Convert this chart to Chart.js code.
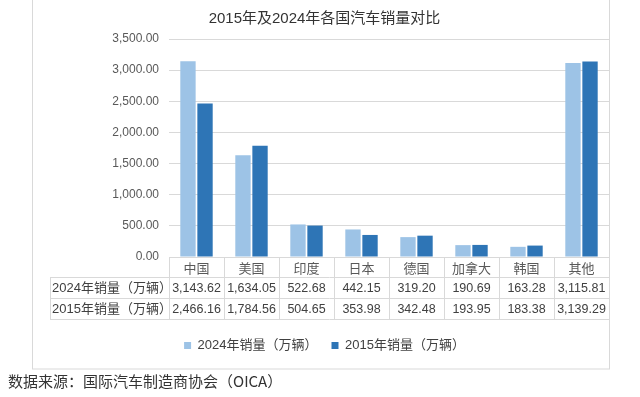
<!DOCTYPE html>
<html>
<head>
<meta charset="utf-8">
<script src="https://cdn.jsdelivr.net/npm/chart.js@4/dist/chart.umd.min.js"></script>
<style>
  html, body { margin: 0; padding: 0; background: #fff; }
  canvas { display: block; }
</style>
</head>
<body>
<canvas id="chart" width="640" height="397"></canvas>
<script>
// 数据（单位：万辆）
const categories = ["中国", "美国", "印度", "日本", "德国", "加拿大", "韩国", "其他"]
const sales2024 = [3143.62, 1634.05, 522.68, 442.15, 319.20, 190.69, 163.28, 3115.81]
const sales2015 = [2466.16, 1784.56, 504.65, 353.98, 342.48, 193.95, 183.38, 3139.29]
const seriesNames = ["2024年销量（万辆）", "2015年销量（万辆）"]
const yMin = 0, yMax = 3500, yStep = 500

const NUM_FONT = '"Liberation Sans", "Noto Sans CJK SC", sans-serif'
const CJK_FONT = '"Noto Sans CJK SC", sans-serif'
const GRID = "#d9d9d9"
const fmt = (v) => v.toLocaleString("en-US", { minimumFractionDigits: 2, maximumFractionDigits: 2 })

// 画外框、数据表和数据来源
const tablePlugin = {
  id: "dataTable",
  beforeDraw(chart) {
    const ctx = chart.ctx
    ctx.save()
    ctx.strokeStyle = GRID
    ctx.lineWidth = 1
    ctx.strokeRect(32.5, -1, 577, 370)
    ctx.restore()
  },
  afterDraw(chart) {
    const ctx = chart.ctx
    const x = chart.scales.x
    const top = chart.chartArea.bottom
    const rows = [top, top + 20, top + 41, top + 62]
    const labelLeft = 50
    const n = categories.length
    const edges = [x.left]
    for (let i = 1; i < n; i++) edges.push((x.getPixelForValue(i - 1) + x.getPixelForValue(i)) / 2)
    edges.push(x.right)

    ctx.save()
    ctx.strokeStyle = GRID
    ctx.lineWidth = 1
    ctx.beginPath()
    ctx.moveTo(x.left, Math.round(rows[0]) + 0.5)
    ctx.lineTo(x.right, Math.round(rows[0]) + 0.5)
    for (let r = 1; r < rows.length; r++) {
      ctx.moveTo(labelLeft, Math.round(rows[r]) + 0.5)
      ctx.lineTo(x.right, Math.round(rows[r]) + 0.5)
    }
    edges.forEach(e => {
      ctx.moveTo(Math.round(e) + 0.5, rows[0])
      ctx.lineTo(Math.round(e) + 0.5, rows[3])
    })
    ctx.moveTo(labelLeft + 0.5, rows[1])
    ctx.lineTo(labelLeft + 0.5, rows[3])
    ctx.stroke()

    const series = [sales2024, sales2015]
    ctx.fillStyle = "#404040"
    ctx.textBaseline = "middle"
    series.forEach((vals, r) => {
      const cy = (rows[r + 1] + rows[r + 2]) / 2 + 1
      ctx.font = "13px " + NUM_FONT
      ctx.textAlign = "left"
      ctx.fillText(seriesNames[r], labelLeft + 2, cy)
      ctx.font = "12.5px " + NUM_FONT
      ctx.textAlign = "center"
      vals.forEach((v, i) => ctx.fillText(fmt(v), x.getPixelForValue(i), cy))
    })

    ctx.font = "15px " + CJK_FONT
    ctx.fillStyle = "#333"
    ctx.textAlign = "left"
    ctx.fillText("数据来源：国际汽车制造商协会（OICA）", 8, 381)
    ctx.restore()
  }
}

new Chart(document.getElementById("chart"), {
  type: "bar",
  data: {
    labels: categories,
    datasets: [
      { label: seriesNames[0], data: sales2024, backgroundColor: "#9dc3e6" },
      { label: seriesNames[1], data: sales2015, backgroundColor: "#2e75b6" }
    ]
  },
  options: {
    responsive: false,
    animation: false,
    devicePixelRatio: 1,
    layout: { padding: { left: 40, right: 31, top: 0, bottom: 35 } },
    datasets: { bar: { categoryPercentage: 0.62, barPercentage: 0.9 } },
    scales: {
      x: {
        grid: { display: false, drawTicks: false },
        border: { display: false },
        ticks: { color: "#595959", font: { family: CJK_FONT, size: 13 }, padding: 3 },
        afterFit: (s) => { s.height = 68 }
      },
      y: {
        min: yMin, max: yMax,
        grid: { color: GRID, drawTicks: false },
        border: { display: false },
        ticks: {
          stepSize: yStep, padding: 10, color: "#595959",
          font: { family: NUM_FONT, size: 12 },
          callback: (v) => fmt(v)
        },
        afterFit: (s) => { s.width = 129 }
      }
    },
    plugins: {
      title: {
        display: true,
        text: "2015年及2024年各国汽车销量对比",
        color: "#333",
        font: { family: NUM_FONT, size: 15, weight: "normal" },
        padding: { top: 10, bottom: 11 }
      },
      legend: {
        position: "bottom",
        labels: {
          color: "#404040",
          boxWidth: 7, boxHeight: 7, padding: 14,
          font: { family: NUM_FONT, size: 13 }
        }
      },
      tooltip: { enabled: false }
    }
  },
  plugins: [tablePlugin]
})
</script>
</body>
</html>
